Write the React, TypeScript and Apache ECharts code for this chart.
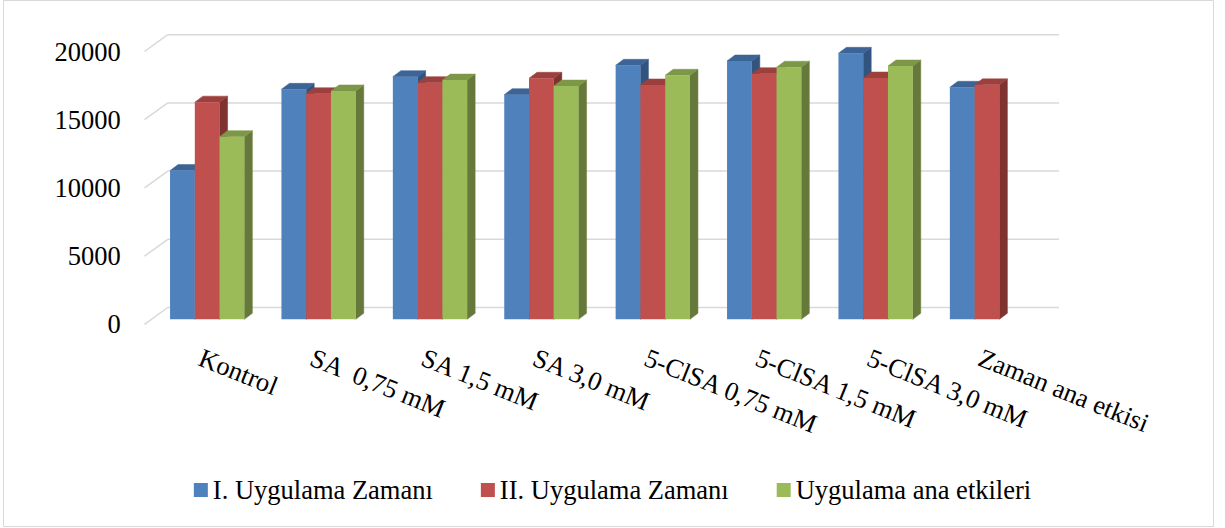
import React, { useEffect, useRef } from "react";
import * as echarts from "echarts";

// Categories and values
const categories = [
  "Kontrol",
  "SA  0,75 mM",
  "SA 1,5 mM",
  "SA 3,0 mM",
  "5-ClSA 0,75 mM",
  "5-ClSA 1,5 mM",
  "5-ClSA 3,0 mM",
  "Zaman ana etkisi",
];
const seriesNames = ["I. Uygulama Zamanı", "II. Uygulama Zamanı", "Uygulama ana etkileri"];
const firstTime = [10900, 16860, 17790, 16470, 18620, 18940, 19500, 17010];
const secondTime = [15920, 16540, 17350, 17670, 17180, 18010, 17690, 17190];
const mainEffects: (number | null)[] = [13390, 16740, 17540, 17100, 17890, 18480, 18570, null];
const yTicks = [0, 5000, 10000, 15000, 20000];

// Face colours: front, top, side
const frontColors = ["#4F81BD", "#C0504D", "#9BBB59"];
const topColors = ["#3C6496", "#9C403E", "#7D9748"];
const sideColors = ["#325580", "#7E3331", "#66793A"];

const FONT = "Liberation Serif";
const FONT_SIZE = 26.5;

// Oblique projection of the plot box
const DEPTH_X = 23.3;
const DEPTH_Y = -16.8;
const BAR_SHIFT_X = 7;
const BAR_SHIFT_Y = -5;
const BAR_DX = 8;
const BAR_DY = -6;
const GROUP_RATIO = 0.667;

function barSeries(index: number, values: (number | null)[]) {
  const data = values
    .map((v, i) => (v == null ? null : [i, v]))
    .filter((d) => d !== null);
  return {
    type: "custom",
    name: seriesNames[index],
    coordinateSystem: "cartesian2d",
    z: 3,
    itemStyle: { color: frontColors[index] },
    data,
    renderItem: (params: any, api: any) => {
      const cat = api.value(0);
      const v = api.value(1);
      const top = api.coord([cat, v]);
      const base = api.coord([cat, 0]);
      const band = api.size([1, 0])[0];
      const groupW = band * GROUP_RATIO;
      const w = groupW / 3;
      const x = top[0] - groupW / 2 + index * w + BAR_SHIFT_X;
      const yT = top[1] + BAR_SHIFT_Y;
      const yB = base[1] + BAR_SHIFT_Y;
      const f = frontColors[index];
      const t = topColors[index];
      const s = sideColors[index];
      return {
        type: "group",
        children: [
          {
            type: "polygon",
            shape: {
              points: [
                [x + w, yT],
                [x + w + BAR_DX, yT + BAR_DY],
                [x + w + BAR_DX, yB + BAR_DY],
                [x + w, yB],
              ],
            },
            style: { fill: s, stroke: s, lineWidth: 0.5 },
          },
          {
            type: "polygon",
            shape: {
              points: [
                [x, yT],
                [x + w, yT],
                [x + w + BAR_DX, yT + BAR_DY],
                [x + BAR_DX, yT + BAR_DY],
              ],
            },
            style: { fill: t, stroke: t, lineWidth: 0.5 },
          },
          {
            type: "rect",
            shape: { x, y: yT, width: w, height: yB - yT },
            style: { fill: f },
          },
        ],
      };
    },
  };
}

export default function App() {
  const ref = useRef<HTMLDivElement>(null);

  useEffect(() => {
    if (!ref.current) return;
    const chart = echarts.init(ref.current, undefined, { renderer: "svg" });
    const option: any = {
      animation: false,
      backgroundColor: "#ffffff",
      graphic: [
        {
          type: "rect",
          shape: { x: 3.5, y: 0.5, width: 1210, height: 526 },
          style: { fill: "none", stroke: "#D9D9D9", lineWidth: 1 },
          silent: true,
        },
      ],
      grid: {
        left: 144.5,
        top: 51.5,
        width: 891.2,
        height: 272.8,
      },
      legend: {
        data: seriesNames,
        left: "center",
        top: 476.5,
        padding: 0,
        icon: "rect",
        itemWidth: 14,
        itemHeight: 14,
        itemGap: 48,
        selectedMode: false,
        textStyle: { fontFamily: FONT, fontSize: FONT_SIZE, color: "#000", lineHeight: 27 },
      },
      xAxis: {
        type: "category",
        data: categories,
        axisLine: { show: false },
        axisTick: { show: false },
        splitLine: { show: false },
        axisLabel: {
          interval: 0,
          rotate: -22,
          margin: 32,
          fontFamily: FONT,
          fontSize: FONT_SIZE,
          color: "#000",
        },
      },
      yAxis: {
        type: "value",
        min: 0,
        max: 20000,
        interval: 5000,
        axisLine: { show: false },
        axisTick: { show: false },
        splitLine: { show: false },
        axisLabel: {
          margin: 23.8,
          fontFamily: FONT,
          fontSize: FONT_SIZE,
          color: "#000",
          formatter: (v: number) => String(v),
        },
      },
      series: [
        {
          type: "custom",
          name: "walls",
          coordinateSystem: "cartesian2d",
          silent: true,
          z: 1,
          data: yTicks.map((v) => [0, v]),
          renderItem: (params: any, api: any) => {
            const cs = params.coordSys;
            const y = api.coord([0, api.value(1)])[1];
            const x0 = cs.x;
            const x1 = cs.x + cs.width;
            const lineStyle = { stroke: "#D9D9D9", lineWidth: 1.5 };
            return {
              type: "group",
              children: [
                {
                  type: "line",
                  shape: { x1: x0, y1: y, x2: x0 + DEPTH_X, y2: y + DEPTH_Y },
                  style: lineStyle,
                },
                {
                  type: "line",
                  shape: { x1: x0 + DEPTH_X, y1: y + DEPTH_Y, x2: x1 + DEPTH_X, y2: y + DEPTH_Y },
                  style: lineStyle,
                },
              ],
            };
          },
        },
        barSeries(0, firstTime),
        barSeries(1, secondTime),
        barSeries(2, mainEffects),
      ],
    };
    chart.setOption(option);
    return () => chart.dispose();
  }, []);

  return (
    <div
      ref={ref}
      style={{ position: "fixed", left: 0, top: 0, width: 1225, height: 528, background: "#fff" }}
    />
  );
}
